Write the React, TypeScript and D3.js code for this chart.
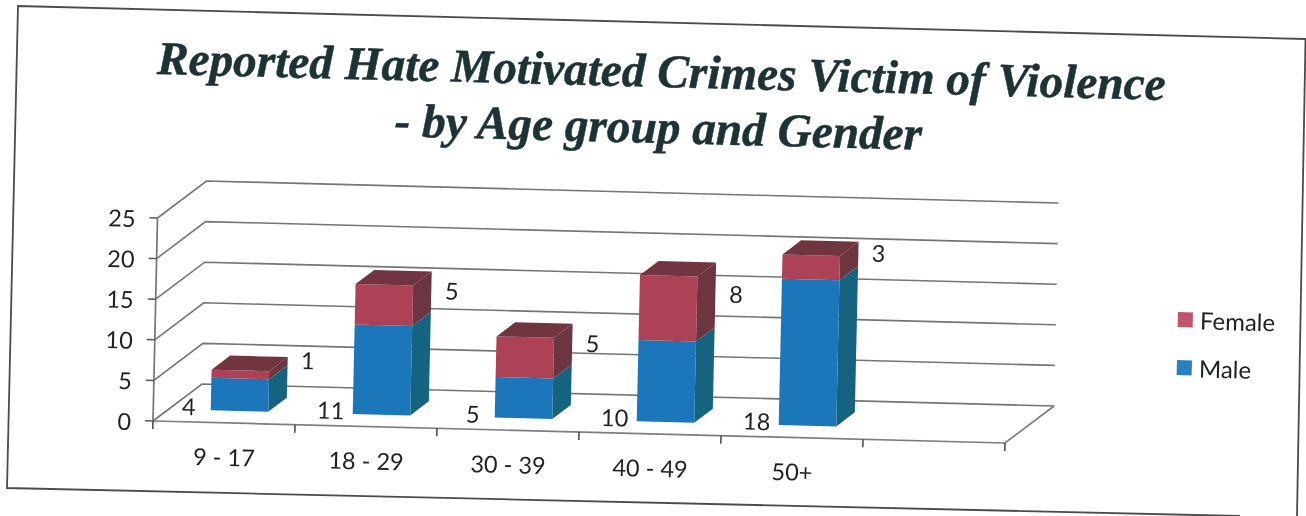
import React from "react";
import * as d3 from "d3";

const titleLines = ["Reported Hate Motivated Crimes Victim of Violence", "- by Age group and Gender"];
const categories = ["9 - 17", "18 - 29", "30 - 39", "40 - 49", "50+"];
const male = [4, 11, 5, 10, 18];
const female = [1, 5, 5, 8, 3];
const yTicks = [0, 5, 10, 15, 20, 25];
const seriesNames = ["Male", "Female"];

const W = 1306, H = 516;
const TILT = 1.47;
const SANS = "Lato, 'Open Sans', sans-serif";
const SERIF = "'Liberation Serif', serif";

// Axis scales in picture pixels: the scan is tilted, so each axis has an x and a y component.
const slots = d3.range(0, 7);
const uX = d3.scaleLinear().domain([0, 6]).range([153, 1005]);
const uY = d3.scaleLinear().domain([0, 6]).range([421, 443]);
const vX = d3.scaleLinear().domain([0, 25]).range([0, 4.5]);
const vY = d3.scaleLinear().domain([0, 25]).range([0, -203]);
const dX = d3.scaleLinear().domain([0, 1]).range([0, 49]);
const dY = d3.scaleLinear().domain([0, 1]).range([0, -37]);

const project = (u: number, v: number, d: number): [number, number] => [
  uX(u) + vX(v) + dX(d),
  uY(u) + vY(v) + dY(d),
];
const line = d3.line();
const poly = (pts: [number, number][]) => line(pts)! + "Z";

const stack = d3.stack<number>().keys(["0", "1"]).value((i, k) => (k === "0" ? male[i] : female[i]));
const stacked = stack(d3.range(categories.length));

const BAR_L = 0.296, BAR_W = 0.405, D0 = 0.32, D1 = 0.7;

const colors = [
  { front: "#1b76ba", side: "#16647f", top: "#16647f" },
  { front: "#ad4257", side: "#6c3440", top: "#6f3540" },
];
const legendColors = ["#2a80c4", "#c2526d"];
const GRID = "#757575";
const INK = "#1f2123";

function Txt({ x, y, size, anchor = "middle", children }: any) {
  return (
    <text
      x={x}
      y={y}
      fontSize={size}
      textAnchor={anchor}
      fontFamily={SANS}
      fill={INK}
      dominantBaseline="central"
      transform={`rotate(${TILT} ${x} ${y})`}
    >
      {children}
    </text>
  );
}

export default function App() {
  return (
    <svg width={W} height={H} style={{ position: "absolute", left: 0, top: 0, background: "#fff" }}>
      <defs>
        <filter id="scan" x="0" y="0" width="100%" height="100%" filterUnits="userSpaceOnUse">
          <feGaussianBlur stdDeviation="0.45" />
        </filter>
      </defs>
      <g filter="url(#scan)">
        {/* frame */}
        <path d="M1306,39 L18,6 L7,488 L1240,516" fill="none" stroke="#4c4c4c" strokeWidth={1.8} />
        <path d="M1305.5,39 L1297,516" fill="none" stroke="#4c4c4c" strokeWidth={1.8} />

        {/* title */}
        {titleLines.map((t, i) => {
          const x = i === 0 ? 661 : 658;
          const y = i === 0 ? 87 : 143;
          return (
            <text
              key={t}
              x={x}
              y={y}
              fontFamily={SERIF}
              fontWeight="bold"
              fontStyle="italic"
              fontSize={47.3}
              textAnchor="middle"
              fill="#1f3236"
              stroke="#1f3236"
              strokeWidth={0.5}
              transform={`rotate(${TILT} ${x} ${y})`}
            >
              {t}
            </text>
          );
        })}

        {/* walls */}
        {yTicks.map((t) => (
          <path
            key={t}
            d={line([project(0, t, 0), project(0, t, 1), project(6, t, 1)])!}
            fill="none"
            stroke={GRID}
            strokeWidth={1.6}
          />
        ))}
        <path d={line([project(0, 0, 0), project(6, 0, 0), project(6, 0, 1)])!} fill="none" stroke="#7c7c86" strokeWidth={1.7} />
        <path d={line([project(0, 0, 0), project(0, 25, 0)])!} fill="none" stroke={GRID} strokeWidth={1.7} />

        {/* ticks */}
        {yTicks.map((t) => {
          const [x, y] = project(0, t, 0);
          return (
            <g key={t}>
              <path d={`M${x - 8},${y - 0.2}L${x},${y}`} stroke="#555" strokeWidth={1.5} />
              <Txt x={x - 22} y={y} size={23.5} anchor="end">{t}</Txt>
            </g>
          );
        })}
        {slots.map((u) => {
          const [x, y] = project(u, 0, 0);
          return <path key={u} d={`M${x},${y}L${x - 0.2},${y + 8}`} stroke="#444" strokeWidth={1.5} />;
        })}
        {categories.map((c, i) => {
          const [x, y] = project(i + 0.5, 0, 0);
          return <Txt key={c} x={x} y={y + 34} size={23.5}>{c}</Txt>;
        })}

        {/* bars */}
        {categories.map((c, i) => (
          <g key={c}>
            {stacked.map((s, k) => {
              const [v0, v1] = s[i];
              const uA = i + BAR_L, uB = i + BAR_L + BAR_W;
              const col = colors[k];
              return (
                <g key={k}>
                  <path
                    d={poly([project(uB, v0, D0), project(uB, v0, D1), project(uB, v1, D1), project(uB, v1, D0)])}
                    fill={col.side}
                  />
                  <path
                    d={poly([project(uA, v0, D0), project(uB, v0, D0), project(uB, v1, D0), project(uA, v1, D0)])}
                    fill={col.front}
                  />
                  {k === stacked.length - 1 && (
                    <path
                      d={poly([project(uA, v1, D0), project(uB, v1, D0), project(uB, v1, D1), project(uA, v1, D1)])}
                      fill={col.top}
                    />
                  )}
                </g>
              );
            })}
          </g>
        ))}

        {/* data labels */}
        {categories.map((c, i) => {
          const [mx, my] = project(i + BAR_L, 0, D0);
          const top = male[i] + female[i];
          const [fx, fy] = project(i + BAR_L + BAR_W, top, D1);
          const halfH = Math.abs(vY(female[i])) / 2;
          return (
            <g key={c}>
              <Txt x={mx - 22} y={my - 4} size={23.5}>{male[i]}</Txt>
              <Txt x={fx + 20} y={fy + halfH - 1} size={23.5}>{female[i]}</Txt>
            </g>
          );
        })}

        {/* legend */}
        {["Female", "Male"].map((name, i) => {
          const k = seriesNames.indexOf(name);
          const x = 1178 - i;
          const y = 312 + i * 48;
          return (
            <g key={name}>
              <rect x={x} y={y} width={15} height={15} fill={legendColors[k]} transform={`rotate(${TILT} ${x} ${y})`} />
              <Txt x={x + 22} y={y + 8} size={24} anchor="start">{name}</Txt>
            </g>
          );
        })}
      </g>
    </svg>
  );
}
